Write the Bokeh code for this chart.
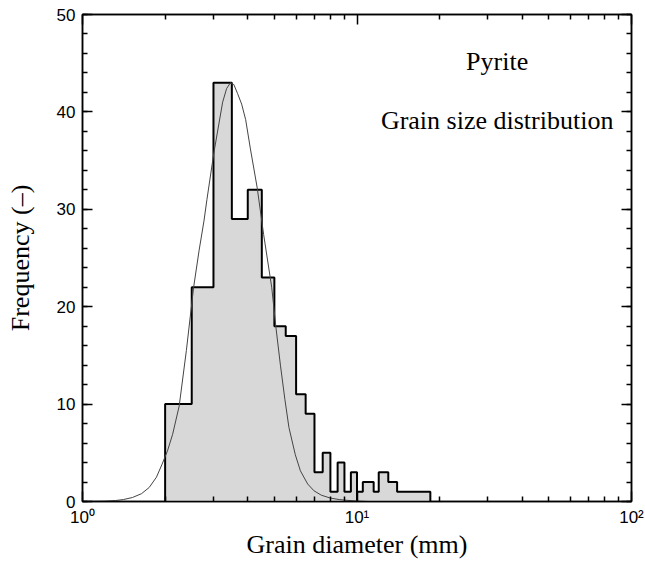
from bokeh.plotting import figure
from bokeh.models import (LogAxis, LinearAxis, FixedTicker, SingleIntervalTicker,
                          Label, Range1d)
from bokeh.embed import file_html
from bokeh.resources import INLINE

# ---- data ----
bin_left = [2.0, 2.5, 3.0, 3.5, 4.0, 4.5, 5.0, 5.5, 6.0, 6.5, 7.0, 7.5, 8.0, 8.5,
            9.0, 9.5, 10.0, 10.5, 11.0, 11.5, 12.0, 12.5, 13.0, 13.5, 14.0, 14.5,
            15.0, 15.5, 16.0, 16.5, 17.0, 17.5, 18.0]
bin_width = 0.5
counts = [10, 22, 43, 29, 32, 23, 18, 17, 11, 9, 3, 5, 1, 4, 1, 3,
          1, 2, 2, 1, 3, 3, 2, 2,
          1, 1, 1, 1, 1, 1, 1, 1, 1]
segment_split = 10.0   # outline drawn in two pieces in the reference

curve_x = [1.00, 1.20, 1.32, 1.41, 1.52, 1.64, 1.75, 1.86, 1.95, 2.04, 2.13, 2.25,
           2.39, 2.54, 2.66, 2.77, 2.84, 3.01, 3.24, 3.35, 3.46, 3.56, 3.67, 3.80,
           3.93, 4.09, 4.33, 4.57, 4.89, 5.07, 5.26, 5.46, 5.65, 5.96, 6.22, 6.61,
           6.97, 7.41, 8.00, 8.61, 9.20, 10.0, 11.0]
curve_y = [0.0, 0.03, 0.1, 0.2, 0.41, 0.8, 1.44, 2.5, 3.84, 5.2, 6.9, 9.8,
           15.5, 22.0, 25.8, 28.8, 31.0, 35.8, 41.0, 42.4, 43.0, 42.8, 41.9, 40.8,
           39.2, 36.2, 32.2, 27.4, 22.0, 17.8, 14.0, 10.5, 7.6, 4.8, 3.15, 1.8,
           1.1, 0.65, 0.35, 0.2, 0.12, 0.05, 0.0]

x_major = [1, 10, 100]
x_minor = [2, 3, 4, 5, 6, 7, 8, 9, 20, 30, 40, 50, 60, 70, 80, 90]
x_labels = {1: "10\u2070", 10: "10\u00b9", 100: "10\u00b2"}

title1 = "Pyrite"
title2 = "Grain size distribution"
x_title = "Grain diameter (mm)"
y_title = "Frequency (\u2013)"

SERIF = "Liberation Serif"
SANS = "Liberation Sans"


def outline(lefts, vals, w):
    xs = [lefts[0]]
    ys = [0]
    for l, v in zip(lefts, vals):
        xs += [l, l + w]
        ys += [v, v]
    xs.append(lefts[-1] + w)
    ys.append(0)
    return xs, ys


p = figure(width=645, height=561, x_axis_type="log",
           x_range=Range1d(1, 100), y_range=Range1d(0, 50),
           output_backend="svg", toolbar_location=None,
           min_border_left=82, min_border_right=14,
           min_border_top=14, min_border_bottom=60)
p.grid.visible = False
p.outline_line_color = "black"
p.outline_line_width = 1.5
p.background_fill_color = "white"
p.border_fill_color = "white"

# fill
fx, fy = outline(bin_left, counts, bin_width)
p.patch(fx, fy, fill_color="#d8d8d8", line_color=None)

# outline in two segments
idx = [i for i, l in enumerate(bin_left) if l < segment_split]
idx2 = [i for i, l in enumerate(bin_left) if l >= segment_split]
ax, ay = outline([bin_left[i] for i in idx], [counts[i] for i in idx], bin_width)
bx, by = outline([bin_left[i] for i in idx2], [counts[i] for i in idx2], bin_width)
p.line(ax, ay, line_color="black", line_width=2)
p.line(bx, by, line_color="black", line_width=2)

# fitted curve
p.line(curve_x, curve_y, line_color="#444444", line_width=1)


def style(ax_, labels=True):
    ax_.axis_line_color = "black"
    ax_.axis_line_width = 1.5
    ax_.major_tick_line_color = "black"
    ax_.major_tick_line_width = 1.5
    ax_.minor_tick_line_color = "black"
    ax_.minor_tick_line_width = 1.5
    ax_.major_tick_in = 10
    ax_.major_tick_out = 0
    ax_.minor_tick_in = 5
    ax_.minor_tick_out = 0
    ax_.major_label_text_font = SANS
    if labels:
        ax_.major_label_text_font_size = "17px"
        ax_.major_label_text_color = "black"
    else:
        ax_.major_label_text_font_size = "1px"
        ax_.major_label_text_color = None
        ax_.major_label_standoff = 0
    ax_.axis_label_text_font = SERIF
    ax_.axis_label_text_font_size = "26px"
    ax_.axis_label_text_font_style = "normal"
    ax_.axis_label_text_color = "black"


xa = p.xaxis[0]
xa.ticker = FixedTicker(ticks=x_major, minor_ticks=x_minor)
xa.major_label_overrides = x_labels
xa.axis_label = x_title
style(xa)
xa.major_label_standoff = 6
xa.axis_label_standoff = 0

ya = p.yaxis[0]
ya.ticker = SingleIntervalTicker(interval=10, num_minor_ticks=5)
ya.axis_label = y_title
style(ya)
ya.major_label_standoff = 7
ya.axis_label_standoff = 19

top = LogAxis(ticker=FixedTicker(ticks=x_major, minor_ticks=x_minor))
style(top, labels=False)
p.add_layout(top, "above")

right = LinearAxis(ticker=SingleIntervalTicker(interval=10, num_minor_ticks=5))
style(right, labels=False)
p.add_layout(right, "right")

p.add_layout(Label(x=32.4, y=45.2, text=title1, text_align="center",
                   text_baseline="alphabetic", text_font=SERIF,
                   text_font_size="26px", text_color="black"))
p.add_layout(Label(x=32.4, y=39.1, text=title2, text_align="center",
                   text_baseline="alphabetic", text_font=SERIF,
                   text_font_size="26px", text_color="black"))

open("out.html", "w").write(file_html(p, INLINE))
